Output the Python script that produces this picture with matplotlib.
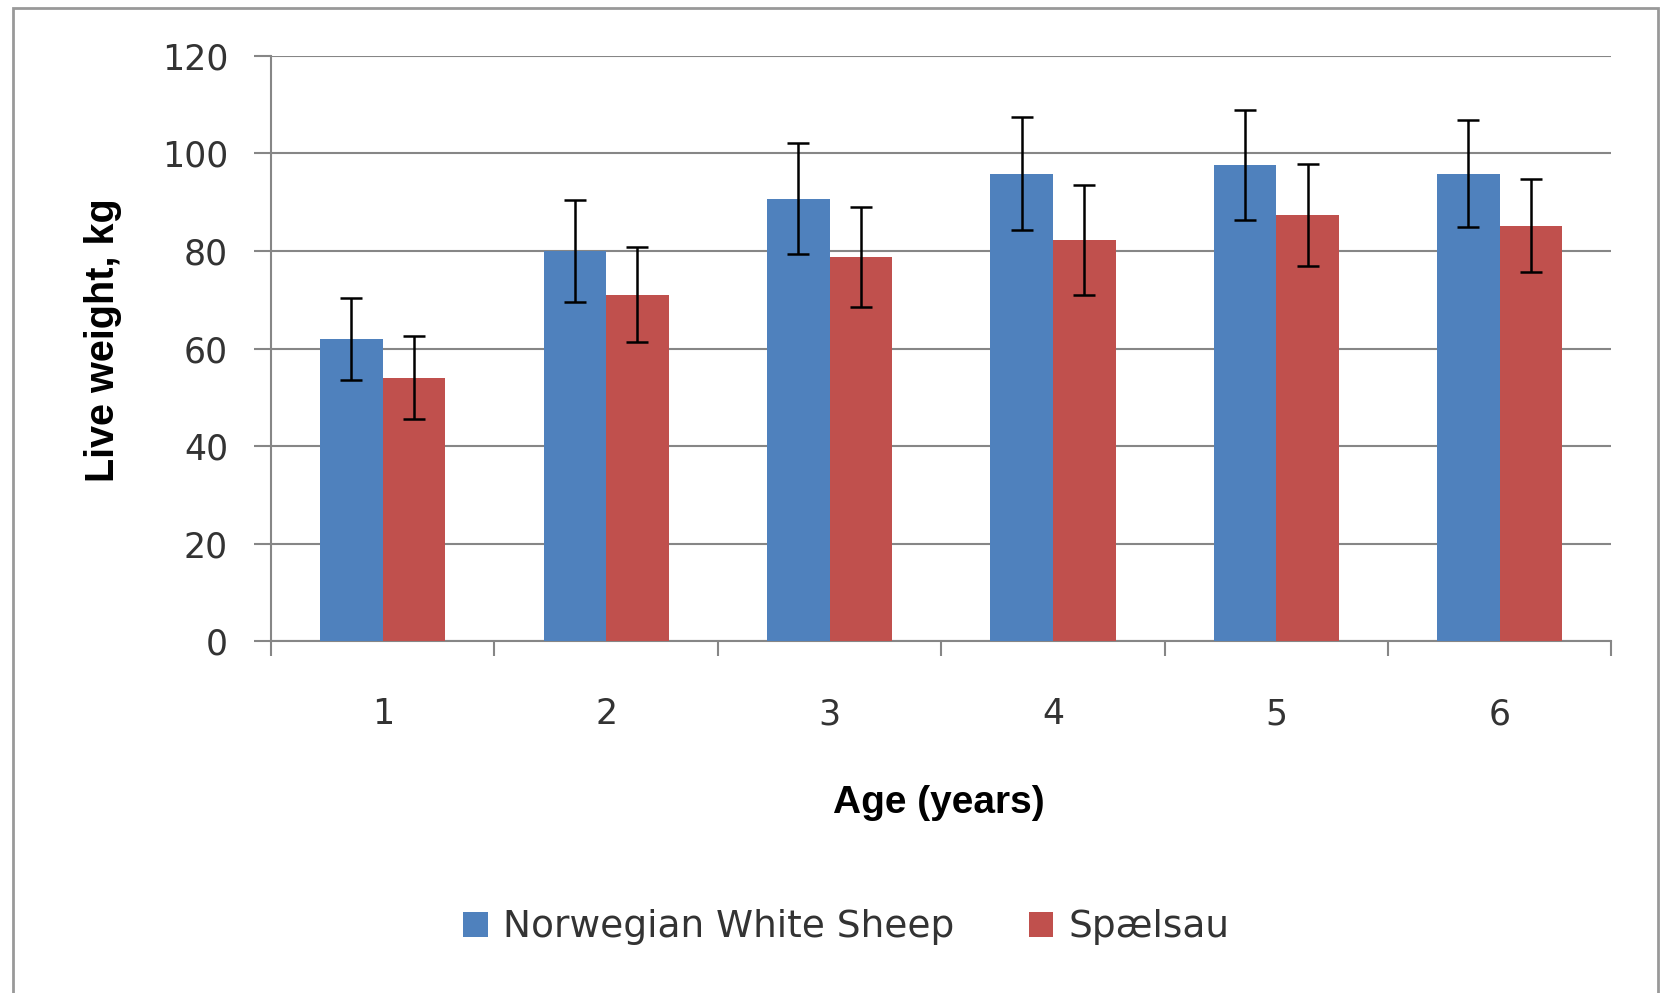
import numpy as np
import matplotlib.pyplot as plt
from matplotlib.patches import Rectangle

# Dados
idades = [1, 2, 3, 4, 5, 6]
peso_nws = [62, 80, 90.7, 95.8, 97.6, 95.8]
erro_nws = [8.4, 10.4, 11.4, 11.6, 11.3, 11.0]
peso_spaelsau = [54, 71, 78.8, 82.2, 87.4, 85.2]
erro_spaelsau = [8.5, 9.7, 10.2, 11.3, 10.5, 9.6]
nomes = ['Norwegian White Sheep', 'Spælsau']

azul = '#4F81BD'
vermelho = '#C0504D'
cinza = '#868686'

fig = plt.figure(figsize=(16.63, 9.93), dpi=100)
ax = fig.add_axes([0.163, 0.354, 0.806, 0.590])

x = np.array(idades)
w = 0.28
ax.bar(x - w / 2, peso_nws, w, color=azul, label=nomes[0], zorder=3)
ax.bar(x + w / 2, peso_spaelsau, w, color=vermelho, label=nomes[1], zorder=3)
ax.errorbar(x - w / 2, peso_nws, yerr=erro_nws, fmt='none', ecolor='black',
            elinewidth=1.8, capsize=8, capthick=1.8, zorder=4)
ax.errorbar(x + w / 2, peso_spaelsau, yerr=erro_spaelsau, fmt='none', ecolor='black',
            elinewidth=1.8, capsize=8, capthick=1.8, zorder=4)

ax.set_xlim(0.5, 6.5)
ax.set_ylim(0, 120)
ax.set_yticks(range(0, 121, 20))
ax.yaxis.grid(True, color=cinza, linewidth=1.5, zorder=0)
ax.set_axisbelow(True)

ax.set_xticks(x)
ax.set_xticklabels([str(i) for i in idades])
ax.set_xticks(np.arange(0.5, 7, 1), minor=True)
ax.tick_params(axis='x', which='major', length=0, pad=40, labelsize=25, colors='#333333')
ax.tick_params(axis='x', which='minor', length=11, width=1.5, color=cinza, direction='out')
ax.tick_params(axis='y', length=12, width=1.5, color=cinza, pad=19, labelsize=25, labelcolor='#333333')

for s in ['top', 'right']:
    ax.spines[s].set_visible(False)
ax.spines['left'].set_color(cinza)
ax.spines['left'].set_linewidth(1.5)
ax.spines['bottom'].set_color(cinza)
ax.spines['bottom'].set_linewidth(1.5)

fonte_eixo = ['Liberation Sans Narrow', 'Liberation Sans', 'DejaVu Sans']
fig.text(0.5645, 0.191, 'Age (years)', ha='center', va='center', fontsize=28,
         fontweight='bold', family=fonte_eixo)
fig.text(0.062, 0.657, 'Live weight, kg', ha='center', va='center', rotation=90,
         fontsize=28.5, fontweight='bold', family=fonte_eixo)

fig.legend(loc='center', bbox_to_anchor=(0.509, 0.066), ncol=2, frameon=False,
           fontsize=27, handlelength=0.65, handleheight=0.65, handletextpad=0.4,
           columnspacing=2.0, labelcolor='#333333')

# moldura do gráfico
fig.patches.append(Rectangle((0.008, -0.05), 0.989, 1.042, transform=fig.transFigure,
                             fill=False, edgecolor='#999999', linewidth=2))

fig.savefig('out.png', dpi=100)
